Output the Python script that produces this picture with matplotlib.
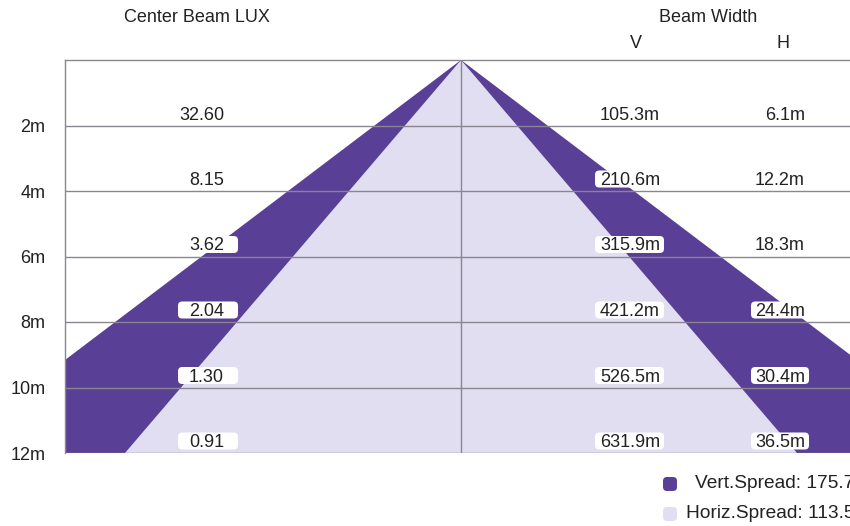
import matplotlib
matplotlib.use("Agg")
import matplotlib.pyplot as plt
from matplotlib.patches import Polygon, FancyBboxPatch

plt.rcParams["font.family"] = ["Liberation Sans", "DejaVu Sans"]

# Data
distances = [2, 4, 6, 8, 10, 12]
dist_labels = ["2m", "4m", "6m", "8m", "10m", "12m"]
lux = ["32.60", "8.15", "3.62", "2.04", "1.30", "0.91"]
width_v = ["105.3m", "210.6m", "315.9m", "421.2m", "526.5m", "631.9m"]
width_h = ["6.1m", "12.2m", "18.3m", "24.4m", "30.4m", "36.5m"]
spread_v = 175.7
spread_h = 113.5

# drawing style (cone slopes are schematic, not to scale)
purple = "#5a3f97"
lilac = "#e0def0"
grid_c = "#8a8590"
txt_c = "#222222"
slope_v, slope_h = 1.32, 0.855
PX = 32.75  # pixels per data unit (both axes)

W, H = 850, 526
fig = plt.figure(figsize=(W / 100, H / 100), dpi=100)
ax = fig.add_axes([65 / W, (H - 453) / H, (W - 65) / W, (453 - 60) / H])
ax.set_xlim(-396 / PX, 389 / PX)
ax.set_ylim(12, 0)

dmax = distances[-1]
ax.add_patch(Polygon([(0, 0), (-slope_v * dmax * 1.5, dmax * 1.5), (slope_v * dmax * 1.5, dmax * 1.5)],
                     closed=True, fc=purple, ec="none", zorder=1))
ax.add_patch(Polygon([(0, 0), (-slope_h * dmax, dmax), (slope_h * dmax, dmax)],
                     closed=True, fc=lilac, ec="none", zorder=2))

for d in distances:
    ax.axhline(d, color=grid_c, lw=1, zorder=3)
ax.axvline(0, color=grid_c, lw=1, zorder=3)

for s in ["right", "bottom"]:
    ax.spines[s].set_visible(False)
for s in ["left", "top"]:
    ax.spines[s].set_color(grid_c)
    ax.spines[s].set_linewidth(1)
ax.set_xticks([])
ax.set_yticks(distances)
ax.set_yticklabels(dist_labels, fontsize=13, color=txt_c)
ax.tick_params(axis="y", length=0, pad=14)

# columns: (text right edge px, box left px, box right px)
cols = [(lux, 224, 178, 238), (width_v, 660, 595, 664), (width_h, 805, 751, 809)]
for vals, right, bl, br in cols:
    for d, s in zip(distances, vals):
        x0 = (bl - 461) / PX
        w = (br - bl) / PX
        ax.add_patch(FancyBboxPatch((x0, d - 20.5 / PX), w, 17 / PX,
                                    boxstyle="round,pad=0,rounding_size=0.13",
                                    fc="white", ec="none", zorder=4))
        ax.text((right - 461) / PX, d - 10.5 / PX, s, ha="right", va="center",
                fontsize=13, color=txt_c, zorder=5)

# headers
fig.text(197 / W, 1 - 18 / H, "Center Beam LUX", ha="center", va="center", fontsize=13, color=txt_c)
fig.text(708 / W, 1 - 18 / H, "Beam Width", ha="center", va="center", fontsize=13, color=txt_c)
fig.text(636 / W, 1 - 44 / H, "V", ha="center", va="center", fontsize=13, color=txt_c)
fig.text(783 / W, 1 - 44 / H, "H", ha="center", va="center", fontsize=13, color=txt_c)

# legend (text runs off the right edge, as in the original)
for yy, c, txt, tx in [(484, purple, f"Vert.Spread: {spread_v}°", 695),
                       (514, lilac, f"Horiz.Spread: {spread_h}°", 686)]:
    fig.patches.append(FancyBboxPatch((663 / 100, (H - yy - 7) / 100), 0.14, 0.14,
                                      boxstyle="round,pad=0,rounding_size=0.04",
                                      fc=c, ec="none", transform=fig.dpi_scale_trans))
    fig.text(tx / W, 1 - yy / H, txt, ha="left", va="center", fontsize=13.8, color=txt_c)

plt.savefig("out.png", dpi=100)
plt.close()
